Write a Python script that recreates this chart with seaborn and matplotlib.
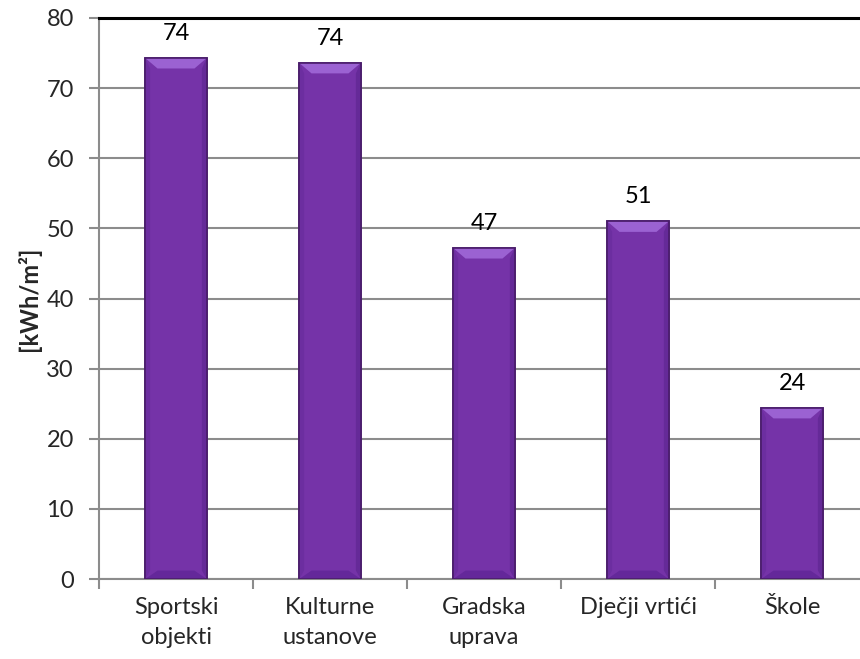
import matplotlib
matplotlib.use("Agg")
import matplotlib.pyplot as plt
import seaborn as sns
import pandas as pd
import numpy as np
from matplotlib.patches import Polygon

categories = ["Sportski\nobjekti", "Kulturne\nustanove", "Gradska\nuprava", "Dječji vrtići", "Škole"]
values = [74.3, 73.6, 47.2, 51.0, 24.4]
y_ticks = [0, 10, 20, 30, 40, 50, 60, 70, 80]

df = pd.DataFrame({"kategorija": categories, "vrijednost": values})

sns.set_style("white")
plt.rcParams["font.family"] = ["Lato", "DejaVu Sans"]
FS = 17

fig = plt.figure(figsize=(8.6, 6.59), dpi=100)
# plot area continues slightly past the right edge, like the original
ax = fig.add_axes([99 / 860, 1 - 579 / 659, 770 / 860, 561 / 659])

sns.barplot(data=df, x="kategorija", y="vrijednost", color="#7533a8",
            width=0.4, saturation=1, ax=ax, zorder=3,
            edgecolor="#4a1d6b", linewidth=1.2)

ax.set_ylim(0, 80)
ax.set_xlim(-0.5, len(categories) - 0.5)
ax.set_yticks(y_ticks)
ax.yaxis.grid(True, color="#8c8c8c", linewidth=1.5, zorder=0)
ax.set_axisbelow(True)

# bevel effect on each bar (derived from the bar geometry)
for bar in ax.patches[:len(values)]:
    x0, y0 = bar.get_x(), bar.get_y()
    w, h = bar.get_width(), bar.get_height()
    ix = w * 0.2
    iy = 1.5
    top = Polygon([[x0, y0 + h], [x0 + w, y0 + h],
                   [x0 + w - ix, y0 + h - iy], [x0 + ix, y0 + h - iy]],
                  closed=True, facecolor="#9b62d2", edgecolor="none", zorder=4)
    bottom = Polygon([[x0, y0], [x0 + w, y0],
                      [x0 + w - ix, y0 + iy * 0.8], [x0 + ix, y0 + iy * 0.8]],
                     closed=True, facecolor="#64289a", edgecolor="none", zorder=4)
    left = Polygon([[x0, y0], [x0 + ix * 0.4, y0 + iy * 0.8],
                    [x0 + ix * 0.4, y0 + h - iy], [x0, y0 + h]],
                   closed=True, facecolor="#6c2ea0", edgecolor="none", zorder=4)
    right = Polygon([[x0 + w, y0], [x0 + w - ix * 0.4, y0 + iy * 0.8],
                     [x0 + w - ix * 0.4, y0 + h - iy], [x0 + w, y0 + h]],
                    closed=True, facecolor="#652a98", edgecolor="none", zorder=4)
    for p in (top, bottom, left, right):
        ax.add_patch(p)
    ax.add_patch(plt.Rectangle((x0, y0), w, h, fill=False,
                               edgecolor="#4a1d6b", linewidth=1.2, zorder=5))

for i, v in enumerate(values):
    ax.annotate(f"{v:.0f}", (i, v), xytext=(0, 13), textcoords="offset points",
                ha="center", va="baseline", fontsize=FS, color="black")

# x ticks: labels at categories, marks at the boundaries
ax.set_xticks(range(len(categories)))
ax.set_xticklabels(categories, fontsize=FS, linespacing=1.5)
ax.set_xticks(np.arange(-0.5, len(categories), 1), minor=True)
ax.tick_params(axis="x", which="major", length=0, pad=13)
ax.tick_params(axis="x", which="minor", length=7, width=1.5, color="#8c8c8c",
               direction="out", bottom=True)
ax.tick_params(axis="y", length=7, width=1.5, color="#8c8c8c", direction="out",
               labelsize=FS, pad=11, left=True)

ax.spines["right"].set_visible(False)
ax.spines["top"].set_color("black")
ax.spines["top"].set_linewidth(2.2)
for s in ["left", "bottom"]:
    ax.spines[s].set_color("#8c8c8c")
    ax.spines[s].set_linewidth(1.5)

ax.set_xlabel("")
ax.set_ylabel("[kWh/m²]", fontsize=FS, fontweight="bold")
ax.yaxis.label.set_va("center")
ax.yaxis.set_label_coords(-70 / 770, 0.5)

fig.savefig("out.png", dpi=100)
